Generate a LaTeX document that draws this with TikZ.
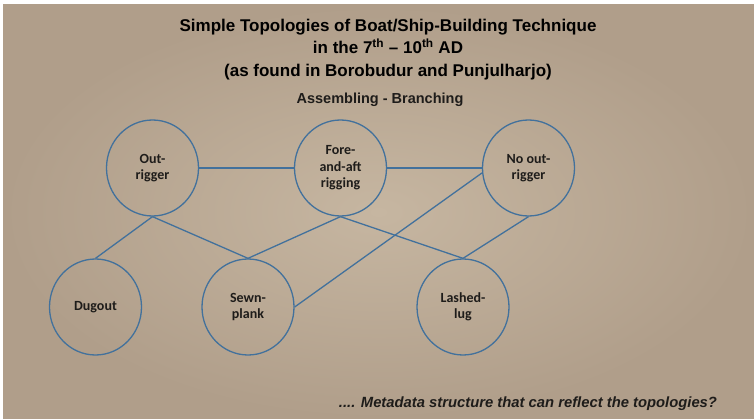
\documentclass[tikz,border=0pt]{standalone}
\usepackage{fontspec}
\setmainfont{Liberation Sans}
\newfontfamily\arialf{Liberation Sans}
\newfontfamily\calibrif{Carlito}
\usetikzlibrary{shapes.geometric}
\definecolor{lineblue}{RGB}{66,113,156}
\definecolor{paperin}{RGB}{198,182,161}
\definecolor{paperout}{RGB}{176,158,138}
\definecolor{txt}{RGB}{30,28,26}
\tikzset{
  topo/.style={ellipse, draw=lineblue, line width=1.3pt, minimum width=92pt, minimum height=96pt, inner sep=0pt, align=center, text=txt, font=\calibrif\bfseries\fontsize{14}{16.5}\selectfont},
  link/.style={draw=lineblue, line width=1.3pt}
}
\begin{document}
\begin{tikzpicture}[x=1pt,y=-1pt]
\useasboundingbox (0,0) rectangle (754,419);
\fill[white] (0,0) rectangle (754,419);
\shade[inner color=paperin, outer color=paperout] (3,5) rectangle (754,419);
\node[align=center, font=\arialf\bfseries\fontsize{17}{22.5}\selectfont, text=black] (title) at (388,49.5)
  {Simple Topologies of Boat/Ship-Building Technique\\in the 7\textsuperscript{th} – 10\textsuperscript{th} AD\\(as found in Borobudur and Punjulharjo)};
\node[font=\arialf\bfseries\fontsize{14.5}{16}\selectfont, text=txt] (sub) at (380,100) {Assembling - Branching};
\node[topo] (out) at (152.5,168) {Out-\\rigger};
\node[topo] (fore) at (340.5,168) {Fore-\\and-aft\\rigging};
\node[topo] (noout) at (528.5,168) {No out-\\rigger};
\node[topo] (dug) at (95.5,307) {Dugout};
\node[topo] (sewn) at (248,307) {Sewn-\\plank};
\node[topo] (lash) at (463,307) {Lashed-\\lug};
\draw[link] (out.east) -- (fore.west);
\draw[link] (fore.east) -- (noout.west);
\draw[link] (out.south) -- (dug.north);
\draw[link] (out.south) -- (sewn.north);
\draw[link] (fore.south) -- (sewn.north);
\draw[link] (fore.south) -- (lash.north);
\draw[link] (noout.south) -- (lash.north);
\draw[link] (noout.186) -- (sewn.east);
\node[font=\arialf\bfseries\itshape\fontsize{14.8}{16}\selectfont, text=txt] (meta) at (528,404) {.... Metadata structure that can reflect the topologies?};
\end{tikzpicture}
\end{document}
